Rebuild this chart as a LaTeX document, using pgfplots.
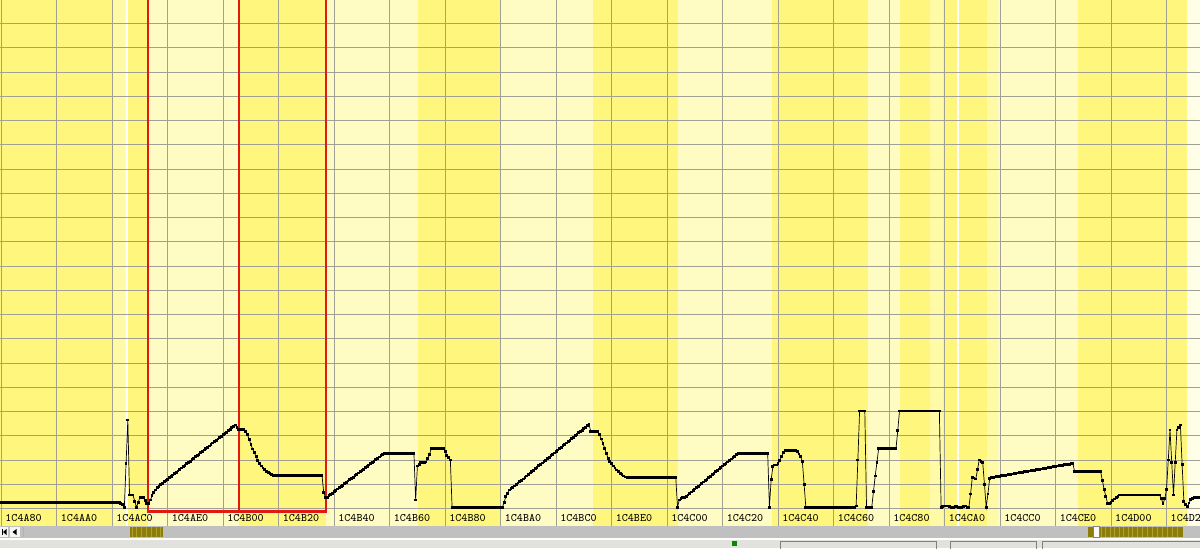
\documentclass[border=0pt]{standalone}
\usepackage{pgfplots}
\usepackage{pgfplotstable}
\pgfplotsset{compat=1.18}
\definecolor{bright}{RGB}{255,247,125}
\definecolor{medium}{RGB}{255,250,165}
\definecolor{pale}{RGB}{255,252,195}
\definecolor{gridgray}{RGB}{160,160,148}
\definecolor{redline}{RGB}{225,25,15}
\definecolor{scrollgray}{RGB}{192,192,192}
\definecolor{statusgray}{RGB}{226,225,222}
\definecolor{olive}{RGB}{140,125,10}
\definecolor{olivelight}{RGB}{175,160,50}

\pgfplotstableread[row sep=\\]{
v\\
2.6\\2.6\\2.6\\2.6\\2.6\\2.6\\2.6\\2.6\\2.6\\2.6\\
2.6\\2.6\\2.6\\2.6\\2.6\\2.6\\2.6\\2.6\\2.6\\2.6\\
2.6\\2.6\\2.6\\2.6\\2.6\\2.6\\2.6\\2.6\\2.6\\2.6\\
2.6\\2.6\\2.6\\2.6\\2.6\\2.6\\2.6\\2.6\\2.6\\2.6\\
2.6\\2.6\\2.6\\2.6\\2.6\\2.6\\2.6\\2.6\\2.6\\2.6\\
2.6\\2.6\\2.6\\2.6\\2.6\\2.6\\2.6\\2.6\\2.6\\2.6\\
2.6\\2.6\\2.6\\2.6\\2.6\\2.6\\2.6\\2.6\\2.6\\
2.2\\1.5\\0.5\\18.5\\36.5\\5.6\\5.6\\5.6\\3.0\\0.5\\2.5\\4.6\\4.6\\4.6\\3.3\\2.1\\2.1\\3.5\\5.2\\6.5\\7.6\\8.5\\9.2\\9.8\\
10.4\\11.0\\11.5\\12.1\\12.7\\13.3\\13.8\\14.4\\15.0\\15.5\\16.1\\16.7\\17.3\\17.8\\18.4\\19.0\\19.5\\20.1\\20.7\\21.3\\21.8\\22.4\\23.0\\23.5\\24.1\\24.7\\25.3\\25.8\\26.4\\27.0\\27.5\\28.1\\28.7\\29.3\\29.8\\30.4\\31.0\\31.5\\32.1\\32.7\\33.3\\33.8\\34.4\\
33.3\\32.7\\32.7\\32.7\\32.7\\31.8\\30.5\\28.5\\26.3\\24.5\\23.0\\21.3\\19.8\\18.6\\17.5\\16.7\\16.0\\15.3\\14.8\\14.4\\14.0\\13.7\\
13.5\\13.5\\13.5\\13.5\\13.5\\13.5\\13.5\\13.5\\13.5\\13.5\\13.5\\13.5\\13.5\\13.5\\13.5\\13.5\\13.5\\13.5\\13.5\\13.5\\13.5\\13.5\\13.5\\13.5\\13.5\\13.5\\13.5\\13.5\\
6.5\\4.6\\4.6\\
5.2\\5.8\\6.3\\6.9\\7.4\\8.0\\8.5\\9.1\\9.6\\10.2\\10.7\\11.3\\11.8\\12.4\\12.9\\13.5\\14.0\\14.6\\15.1\\15.7\\16.2\\16.8\\17.3\\17.9\\18.4\\19.0\\19.5\\20.1\\20.6\\21.2\\21.7\\22.3\\
22.8\\22.8\\22.8\\22.8\\22.8\\22.8\\22.8\\22.8\\22.8\\22.8\\22.8\\22.8\\22.8\\22.8\\22.8\\22.8\\22.8\\22.8\\
3.5\\17.5\\18.2\\18.9\\18.9\\18.9\\19.2\\20.5\\22.3\\
24.8\\24.8\\24.8\\24.8\\24.8\\24.8\\24.8\\24.8\\
23.5\\22.0\\21.0\\20.0\\
0.5\\0.5\\0.5\\0.5\\0.5\\0.5\\0.5\\0.5\\0.5\\0.5\\0.5\\0.5\\0.5\\0.5\\0.5\\0.5\\0.5\\0.5\\0.5\\0.5\\0.5\\0.5\\0.5\\0.5\\0.5\\0.5\\0.5\\0.5\\0.5\\0.5\\
2.5\\4.9\\6.3\\7.6\\8.2\\
8.7\\9.3\\9.9\\10.5\\11.1\\11.7\\12.2\\12.8\\13.4\\14.0\\14.6\\15.2\\15.8\\16.4\\17.0\\17.6\\18.2\\18.8\\19.3\\19.9\\20.5\\21.1\\21.7\\22.3\\22.9\\23.5\\24.1\\24.7\\25.3\\25.9\\26.4\\27.0\\27.6\\28.2\\28.8\\29.4\\30.0\\30.6\\31.2\\31.8\\32.3\\32.9\\33.5\\34.1\\34.7\\
31.7\\31.7\\31.7\\31.7\\31.7\\
30.5\\28.7\\26.9\\24.8\\22.7\\20.7\\19.5\\18.5\\17.5\\16.7\\15.9\\15.2\\14.5\\13.9\\13.4\\13.0\\
12.7\\12.7\\12.7\\12.7\\12.7\\12.7\\12.7\\12.7\\12.7\\12.7\\12.7\\12.7\\12.7\\12.7\\12.7\\12.7\\12.7\\12.7\\12.7\\12.7\\12.7\\12.7\\12.7\\12.7\\12.7\\12.7\\12.7\\12.7\\12.7\\
0.5\\3.5\\4.2\\4.4\\4.7\\
5.0\\5.6\\6.2\\6.8\\7.4\\8.0\\8.6\\9.2\\9.7\\10.3\\10.9\\11.5\\12.1\\12.7\\13.3\\13.9\\14.5\\15.1\\15.7\\16.3\\16.9\\17.5\\18.1\\18.6\\19.2\\19.8\\20.4\\21.0\\21.6\\22.2\\22.8\\
22.8\\22.8\\22.8\\22.8\\22.8\\22.8\\22.8\\22.8\\22.8\\22.8\\22.8\\22.8\\22.8\\22.8\\22.8\\22.8\\22.8\\
0.5\\12.0\\17.2\\17.9\\17.9\\18.5\\19.7\\21.5\\23.0\\
23.8\\23.8\\23.8\\23.8\\23.8\\23.8\\23.8\\
23.5\\22.5\\21.4\\19.3\\10.0\\
0.5\\0.5\\0.5\\0.5\\0.5\\0.5\\0.5\\0.5\\0.5\\0.5\\0.5\\0.5\\0.5\\0.5\\0.5\\0.5\\0.5\\0.5\\0.5\\0.5\\0.5\\0.5\\0.5\\0.5\\0.5\\0.5\\0.5\\0.5\\0.5\\
1.0\\20.0\\
40.2\\40.2\\40.2\\40.2\\
0.5\\0.5\\0.5\\0.5\\
7.0\\13.4\\19.0\\
24.8\\24.8\\24.8\\24.8\\24.8\\24.8\\24.8\\24.8\\24.8\\24.8\\24.8\\
32.0\\
40.2\\40.2\\40.2\\40.2\\40.2\\40.2\\40.2\\40.2\\40.2\\40.2\\40.2\\40.2\\40.2\\40.2\\40.2\\40.2\\40.2\\40.2\\40.2\\40.2\\40.2\\40.2\\40.2\\40.2\\
0.5\\0.8\\1.0\\1.0\\1.0\\0.8\\0.5\\0.5\\0.8\\0.8\\0.5\\0.5\\0.5\\0.8\\1.0\\0.5\\0.5\\
6.0\\12.9\\12.6\\12.2\\16.0\\20.0\\19.5\\18.9\\10.0\\0.5\\6.0\\12.4\\
12.7\\12.8\\13.0\\13.1\\13.2\\13.3\\13.5\\13.6\\13.7\\13.8\\14.0\\14.1\\14.2\\14.3\\14.5\\14.6\\14.7\\14.8\\15.0\\15.1\\15.2\\15.3\\15.5\\15.6\\15.7\\15.8\\16.0\\16.1\\16.2\\16.3\\16.5\\16.6\\16.7\\16.8\\17.0\\17.1\\17.2\\17.3\\17.5\\17.6\\17.7\\17.8\\18.0\\18.1\\18.2\\18.3\\18.5\\18.6\\
15.2\\15.2\\15.2\\15.2\\15.2\\15.2\\15.2\\15.2\\15.2\\15.2\\15.2\\15.2\\15.2\\15.2\\15.2\\15.2\\
11.5\\7.9\\5.0\\2.1\\2.1\\2.6\\3.2\\3.9\\4.5\\5.1\\
5.6\\5.6\\5.6\\5.6\\5.6\\5.6\\5.6\\5.6\\5.6\\5.6\\5.6\\5.6\\5.6\\5.6\\5.6\\5.6\\5.6\\5.6\\5.6\\5.6\\5.6\\5.6\\5.6\\5.6\\
4.0\\2.1\\4.0\\7.9\\20.0\\32.4\\19.0\\5.6\\19.0\\32.4\\33.4\\34.4\\18.0\\2.8\\1.8\\0.7\\2.3\\3.8\\4.2\\4.5\\4.5\\4.5\\4.5\\
}\bytes

\begin{document}
\begin{tikzpicture}
% ---- background bands, grid rows, scrollbar and status bar (pixel units, origin bottom-left)
\begin{scope}[x=0.5pt, y=0.5pt]
\fill[bright] (0,22) rectangle (112,548);
\fill[medium] (112,22) rectangle (126,548);
\fill[white] (126,22) rectangle (128,548);
\fill[bright] (128,22) rectangle (148,548);
\fill[pale] (148,22) rectangle (239,548);
\fill[bright] (239,22) rectangle (326,548);
\fill[pale] (326,22) rectangle (418,548);
\fill[bright] (418,22) rectangle (500,548);
\fill[pale] (500,22) rectangle (593,548);
\fill[bright] (593,22) rectangle (678,548);
\fill[pale] (678,22) rectangle (772,548);
\fill[bright] (772,22) rectangle (868,548);
\fill[pale] (868,22) rectangle (900,548);
\fill[bright] (900,22) rectangle (930,548);
\fill[medium] (930,22) rectangle (943,548);
\fill[bright] (943,22) rectangle (957,548);
\fill[white] (957,22) rectangle (959,548);
\fill[bright] (959,22) rectangle (987,548);
\fill[medium] (987,22) rectangle (998,548);
\fill[pale] (998,22) rectangle (1078,548);
\fill[bright] (1078,22) rectangle (1187,548);
\fill[white!60!pale] (1187,22) rectangle (1200,548);
\foreach \k in {0,...,20} {\draw[gridgray, line width=0.5pt] (0,{39.5+24.25*\k}) -- (1200,{39.5+24.25*\k});}
% scrollbar
\fill[scrollgray] (0,10) rectangle (1200,22);
\fill[white!92!gray] (0,11) rectangle (8,21);
\fill[white!92!gray] (10,11) rectangle (20,21);
\fill[black] (1.5,13) rectangle (2.5,19);
\fill[black] (3,16) -- (6.5,19) -- (6.5,13) -- cycle;
\fill[black] (12.5,16) -- (16.5,19) -- (16.5,13) -- cycle;
\draw[gray!60, line width=0.3pt] (23,11) -- (23,21);
\draw[gray!50, line width=0.3pt] (35,11) -- (35,21);
\draw[gray!50, line width=0.3pt] (62,11) -- (62,21);
\fill[olive] (130,11) rectangle (163,21);
\foreach \s in {132,136,141,146,151,156,160} {\fill[olivelight] (\s,11) rectangle ++(1.2,10);}
\fill[olive] (1088,11) rectangle (1183,21);
\foreach \s in {1101,1105,1110,1114,1119,1123,1128,1132,1137,1142,1147,1152,1157,1162,1167,1172,1177} {\fill[olivelight] (\s,11) rectangle ++(1.2,10);}
\fill[white!95!gray] (1093,10.5) rectangle (1099,22);
\draw[gray, line width=0.3pt] (1093,10.5) rectangle (1099,22);
% status bar
\fill[white] (0,8.5) rectangle (1200,10);
\fill[statusgray] (0,0) rectangle (1200,8.5);
\fill[green!55!black] (732,2) rectangle (737,7);
\draw[gray, line width=0.3pt] (780,-2) rectangle (936,7);
\draw[gray, line width=0.3pt] (950,-2) rectangle (1036,7);
\draw[gray, line width=0.3pt] (1042,-2) rectangle (1202,7);
\end{scope}

\begin{axis}[
  at={(0,11pt)}, anchor=south west,
  scale only axis, width=600pt, height=263pt,
  xmin=-0.7, xmax=691.3, ymin=-7.22, ymax=209.69,
  axis line style={draw=none},
  xtick={0,32,...,672},
  xticklabels={1C4A80,1C4AA0,1C4AC0,1C4AE0,1C4B00,1C4B20,1C4B40,1C4B60,1C4B80,1C4BA0,1C4BC0,1C4BE0,1C4C00,1C4C20,1C4C40,1C4C60,1C4C80,1C4CA0,1C4CC0,1C4CE0,1C4D00,1C4D20},
  ytick=\empty,
  major tick length=0pt,
  xmajorgrids,
  grid style={draw=gridgray, line width=0.5pt},
  xticklabel style={anchor=base west, inner sep=0pt, xshift=1.9pt, yshift=2.2pt,
     font=\ttfamily\fontsize{5.7}{6}\selectfont},
]
\addplot[black, line width=0.35pt, mark=square*, mark size=0.45pt,
  mark options={solid, fill=black, draw=black, line width=0pt}]
  table[x expr=\coordindex, y=v] {\bytes};

% selection rectangle
\draw[redline, line width=1.35pt] (axis cs:84.7,215) -- (axis cs:84.7,-1.32) -- (axis cs:187.3,-1.32) -- (axis cs:187.3,215);
\draw[redline, line width=1.35pt] (axis cs:137.1,215) -- (axis cs:137.1,-1.32);
\end{axis}
\pgfresetboundingbox
\useasboundingbox (0,0) rectangle (600pt,274pt);
\end{tikzpicture}
\end{document}
